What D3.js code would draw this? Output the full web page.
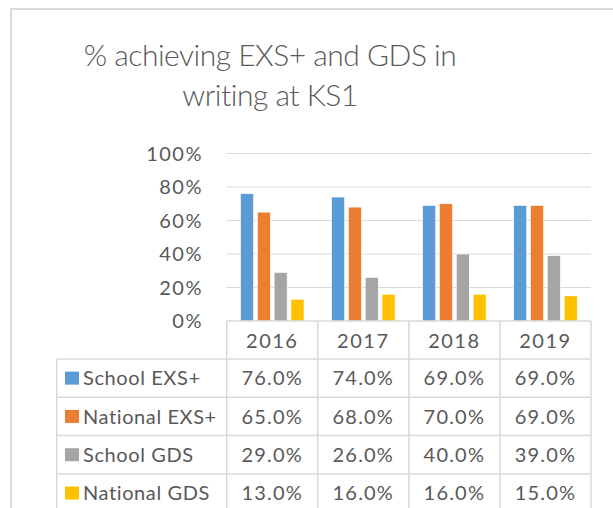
<!DOCTYPE html>
<html>
<head>
<meta charset="utf-8">
<script src="https://cdn.jsdelivr.net/npm/d3@7"></script>
<style>
  body { margin: 0; background: #fff; }
  text { font-family: Lato, "Open Sans", sans-serif; fill: #595959; }
</style>
</head>
<body>
<div id="chart"></div>
<script>
const years = ["2016", "2017", "2018", "2019"]
const seriesNames = ["School EXS+", "National EXS+", "School GDS", "National GDS"]
const schoolExs = [76, 74, 69, 69]
const nationalExs = [65, 68, 70, 69]
const schoolGds = [29, 26, 40, 39]
const nationalGds = [13, 16, 16, 15]
const yTicks = [0, 20, 40, 60, 80, 100]
const colors = ["#5b9bd5", "#ed7d31", "#a5a5a5", "#ffc000"]
const titleLines = ["% achieving EXS+ and GDS in", "writing at KS1"]

const seriesValues = [schoolExs, nationalExs, schoolGds, nationalGds]
const series = seriesNames.map((name, i) => ({name, color: colors[i], values: seriesValues[i]}))

const W = 613, H = 508
const plotLeft = 226.7, plotRight = 591, plotTop = 153.5, plotBottom = 321
const labelLeft = 56.7
const rowH = 38.3, headerBottom = 359

const svg = d3.select("#chart")
    .append("svg")
    .attr("width", W)
    .attr("height", H)

// chart frame
svg.append("rect")
    .attr("x", 11).attr("y", 9)
    .attr("width", 700).attr("height", 600)
    .attr("fill", "none")
    .attr("stroke", "#d9d9d9")
    .attr("stroke-width", 2)

svg.append("g")
  .selectAll("text")
  .data(titleLines)
  .join("text")
    .attr("x", 270)
    .attr("y", (d, i) => 66 + i * 40)
    .attr("text-anchor", "middle")
    .attr("font-size", 30)
    .attr("font-weight", 300)
    .attr("letter-spacing", -0.5)
    .text(d => d)

const x0 = d3.scaleBand().domain(years).range([plotLeft, plotRight])
const x1 = d3.scaleBand().domain(seriesNames).range([0, x0.bandwidth()])
    .paddingInner(0.226).paddingOuter(0.82)
const y = d3.scaleLinear().domain([0, 100]).range([plotBottom, plotTop])

// gridlines
svg.append("g")
  .selectAll("line")
  .data(yTicks.filter(d => d > 0))
  .join("line")
    .attr("x1", plotLeft).attr("x2", plotRight)
    .attr("y1", d => y(d)).attr("y2", d => y(d))
    .attr("stroke", "#d9d9d9")
    .attr("stroke-width", 1)

svg.append("g")
  .selectAll("text")
  .data(yTicks)
  .join("text")
    .attr("x", 203)
    .attr("y", d => y(d))
    .attr("dy", "0.36em")
    .attr("text-anchor", "end")
    .attr("font-size", 20)
    .attr("letter-spacing", 1.5)
    .text(d => d + "%")

// bars
svg.append("g")
  .selectAll("g")
  .data(series)
  .join("g")
    .attr("fill", d => d.color)
  .selectAll("rect")
  .data(d => d.values.map((v, i) => ({name: d.name, year: years[i], v})))
  .join("rect")
    .attr("x", d => x0(d.year) + x1(d.name))
    .attr("width", x1.bandwidth())
    .attr("y", d => y(d.v))
    .attr("height", d => y(0) - y(d.v))
    .attr("stroke", "#fff")
    .attr("stroke-width", 0.6)

// data table
const table = svg.append("g")
const gridColor = "#d9d9d9"
const rowTop = i => headerBottom + i * rowH

// horizontal lines
table.append("line")
    .attr("x1", plotLeft).attr("x2", plotRight)
    .attr("y1", plotBottom).attr("y2", plotBottom)
    .attr("stroke", gridColor).attr("stroke-width", 1.5)
table.selectAll(".hl")
  .data(d3.range(series.length))
  .join("line")
    .attr("x1", labelLeft).attr("x2", plotRight)
    .attr("y1", i => rowTop(i)).attr("y2", i => rowTop(i))
    .attr("stroke", gridColor).attr("stroke-width", 1.5)

// vertical lines
const colEdges = years.map(d => x0(d)).concat([plotRight])
table.selectAll(".vl")
  .data(colEdges)
  .join("line")
    .attr("x1", d => d).attr("x2", d => d)
    .attr("y1", plotBottom).attr("y2", H + 5)
    .attr("stroke", gridColor).attr("stroke-width", 1.5)
table.append("line")
    .attr("x1", labelLeft).attr("x2", labelLeft)
    .attr("y1", headerBottom).attr("y2", H + 5)
    .attr("stroke", gridColor).attr("stroke-width", 1.5)

// header years
table.selectAll(".yr")
  .data(years)
  .join("text")
    .attr("x", d => x0(d) + x0.bandwidth() / 2)
    .attr("y", (plotBottom + headerBottom) / 2 + 1)
    .attr("dy", "0.36em")
    .attr("text-anchor", "middle")
    .attr("font-size", 20)
    .attr("letter-spacing", 1.5)
    .text(d => d)

// rows
const rows = table.selectAll(".row")
  .data(series)
  .join("g")
    .attr("transform", (d, i) => `translate(0,${rowTop(i) + rowH / 2})`)

rows.append("rect")
    .attr("x", 65).attr("y", -6.5)
    .attr("width", 14).attr("height", 13)
    .attr("fill", d => d.color)

rows.append("text")
    .attr("x", 83)
    .attr("dy", "0.36em")
    .attr("font-size", 20)
    .attr("letter-spacing", 0.6)
    .text(d => d.name)

rows.selectAll(".val")
  .data(d => d.values.map((v, i) => ({v, year: years[i]})))
  .join("text")
    .attr("x", d => x0(d.year) + x0.bandwidth() / 2)
    .attr("dy", "0.36em")
    .attr("text-anchor", "middle")
    .attr("font-size", 20)
    .attr("letter-spacing", 1.2)
    .text(d => d.v.toFixed(1) + "%")
</script>
</body>
</html>
